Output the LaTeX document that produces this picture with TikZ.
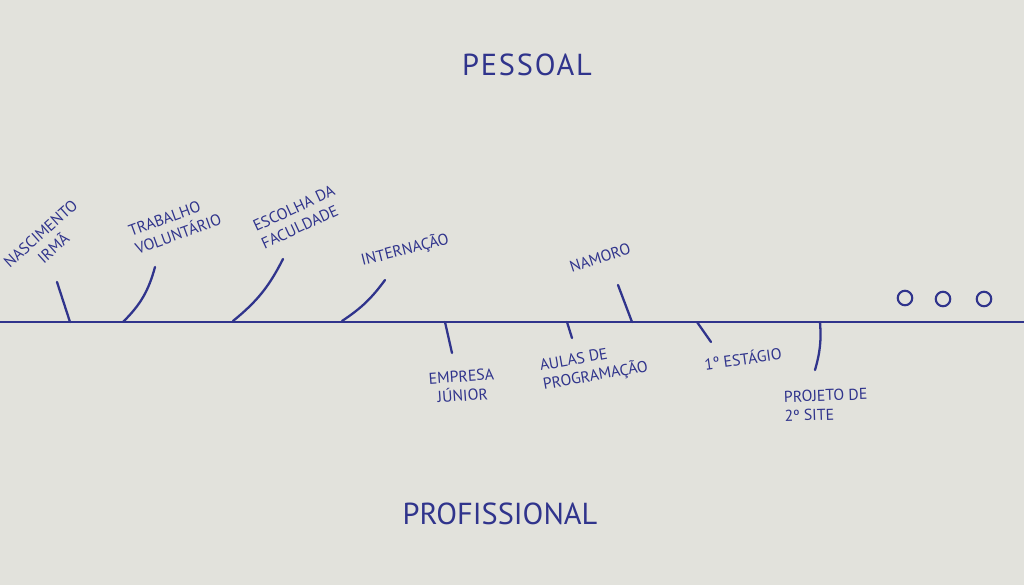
\documentclass[tikz,border=0pt]{standalone}
\usepackage{fontspec}
\setmainfont{PT Sans}
\newfontfamily\spaced[LetterSpace=6]{PT Sans}
\definecolor{ink}{RGB}{48,52,140}
\definecolor{paper}{RGB}{226,226,220}

\begin{document}
\begin{tikzpicture}[x=0.02cm,y=-0.02cm,
  ev/.style={text=ink,font=\small,inner sep=1pt},
  tick/.style={draw=ink,line width=1.3pt,line cap=round},
  title/.style={text=ink,font=\LARGE}]
\useasboundingbox[fill=paper] (0,0) rectangle (1024,585);

% linha do tempo
\coordinate (l) at (0,322);
\coordinate (r) at (1024,322);
\draw[tick,line width=1.6pt] (l) -- (r);

\node[title,font=\LARGE\spaced] (pess) at (527,65) {PESSOAL};
\node[title] (prof) at (500,514) {PROFISSIONAL};

% acima da linha
\node[ev,rotate=42,align=center] (nasc) at (47,241) {NASCIMENTO\\IRMÃ};
\node[ev,rotate=20,align=left] (trab) at (175,225) {TRABALHO\\VOLUNTÁRIO};
\node[ev,rotate=25,align=left] (esc) at (298,217) {ESCOLHA DA\\FACULDADE};
\node[ev,rotate=14] (int) at (405,250) {INTERNAÇÃO};
\node[ev,rotate=18] (nam) at (600,258) {NAMORO};

% abaixo da linha
\node[ev,rotate=4,align=center] (emp) at (462,386) {EMPRESA\\JÚNIOR};
\node[ev,rotate=10,align=left] (aul) at (594,367) {AULAS DE\\PROGRAMAÇÃO};
\node[ev,rotate=8] (est) at (743,358) {1º ESTÁGIO};
\node[ev,rotate=2,align=left] (proj) at (826,405) {PROJETO DE\\2º SITE};

% tracos
\coordinate (a1) at (70,322);  \coordinate (b1) at (57,282);
\coordinate (a2) at (123,322); \coordinate (b2) at (155,267);
\coordinate (a3) at (233,321); \coordinate (b3) at (283,259);
\coordinate (a4) at (342,321); \coordinate (b4) at (385,280);
\coordinate (a5) at (632,322); \coordinate (b5) at (618,285);
\coordinate (a6) at (445,322); \coordinate (b6) at (452,353);
\coordinate (a7) at (567,322); \coordinate (b7) at (572,338);
\coordinate (a8) at (697,322); \coordinate (b8) at (711,342);
\coordinate (a9) at (820,322); \coordinate (b9) at (815,370);

\draw[tick] (a1) -- (b1);
\draw[tick] (a2) to[bend right=15] (b2);
\draw[tick] (a3) to[bend right=12] (b3);
\draw[tick] (a4) to[bend right=10] (b4);
\draw[tick] (a5) -- (b5);
\draw[tick] (a6) -- (b6);
\draw[tick] (a7) -- (b7);
\draw[tick] (a8) -- (b8);
\draw[tick] (a9) to[bend left=10] (b9);

% reticencias
\foreach \x/\y [count=\i] in {905/298,943/299,984/299}
  \node[draw=ink,line width=1.2pt,circle,inner sep=0pt,minimum size=0.29cm] (c\i) at (\x,\y) {};
\end{tikzpicture}
\end{document}
